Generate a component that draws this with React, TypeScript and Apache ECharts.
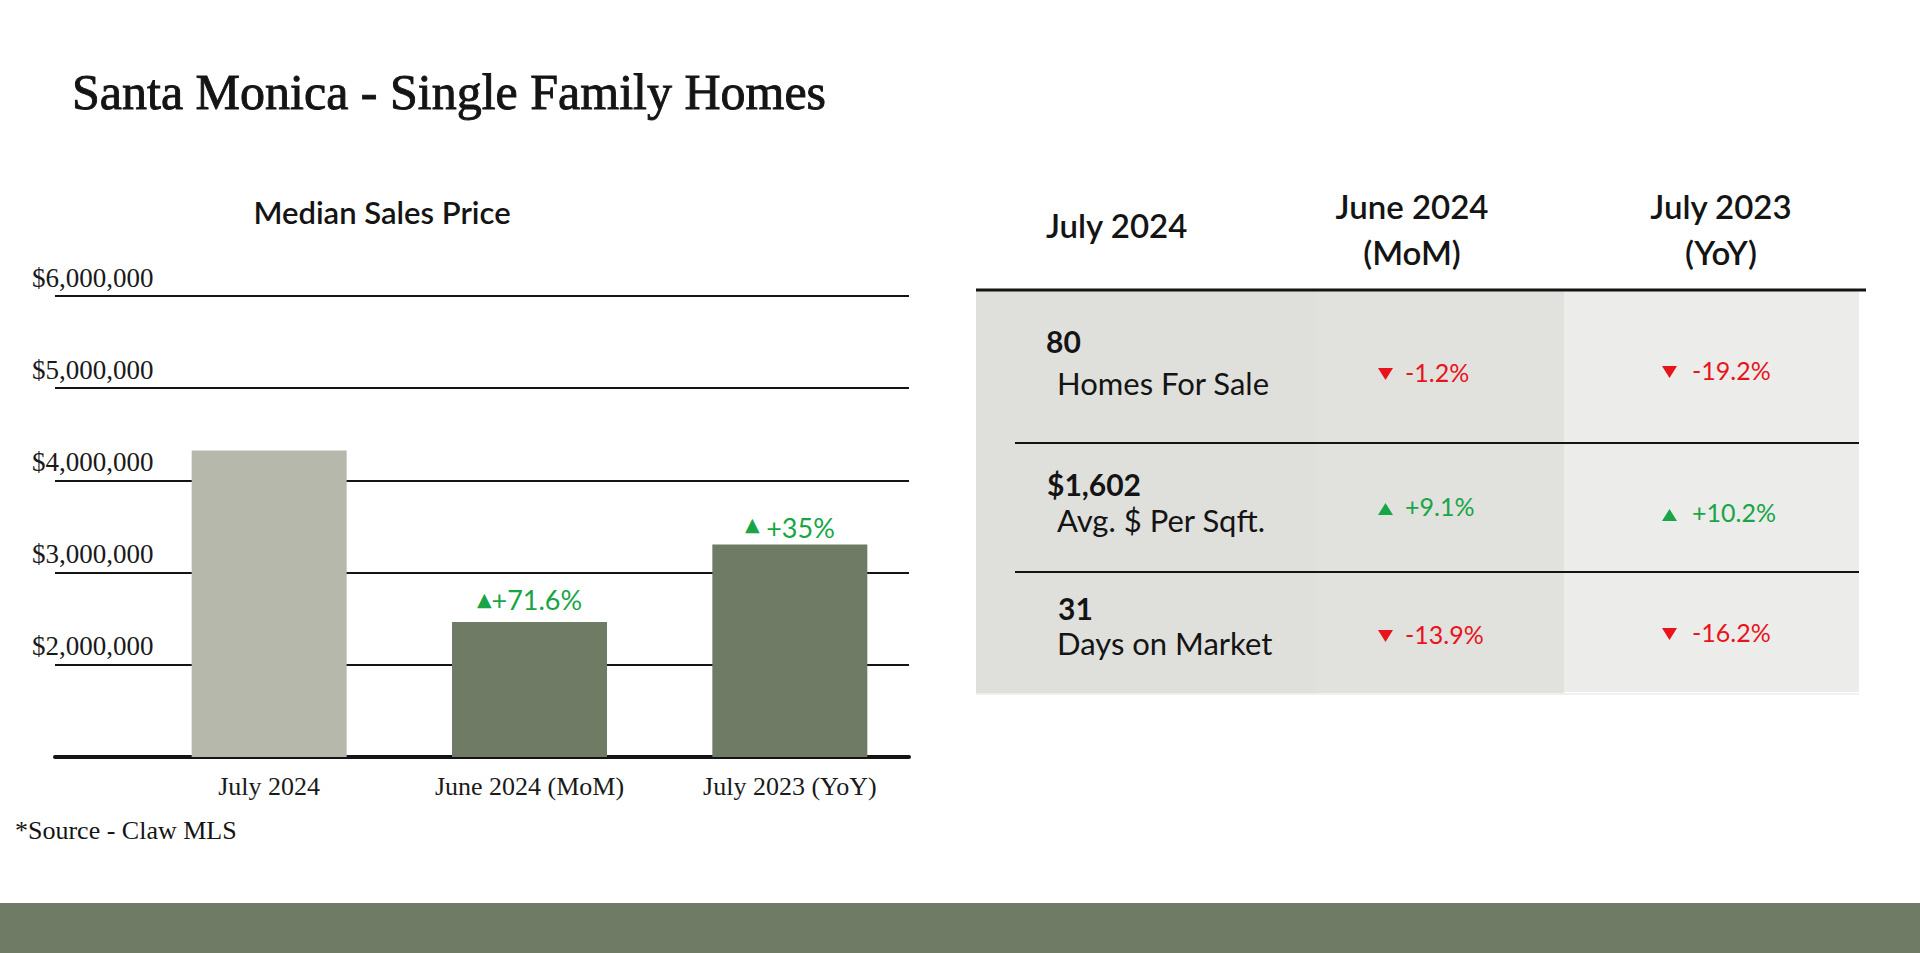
import React, { useEffect, useRef } from "react";
import * as echarts from "echarts";

// ---------- DATA ----------
const pageTitle = "Santa Monica - Single Family Homes";
const chartTitle = "Median Sales Price";
const sourceNote = "*Source - Claw MLS";

const categories = ["July 2024", "June 2024 (MoM)", "July 2023 (YoY)"];
const medianPrices = [4325000, 2465000, 3305000];
const barChanges = ["", "+71.6%", "+35%"];

const yMin = 1000000;
const yMax = 6000000;
const yStep = 1000000;

const tableHeaders = ["July 2024", "June 2024\n(MoM)", "July 2023\n(YoY)"];
const metricValues = ["80", "$1,602", "31"];
const metricNames = ["Homes For Sale", "Avg. $ Per Sqft.", "Days on Market"];
const momChanges = ["-1.2%", "+9.1%", "-13.9%"];
const yoyChanges = ["-19.2%", "+10.2%", "-16.2%"];

// ---------- STYLE / LAYOUT ----------
const SERIF = "'Liberation Serif', 'Times New Roman', serif";
const SANS = "Lato, 'Noto Sans', sans-serif";
const GREEN = "#17a545";
const RED = "#e8141c";
const INK = "#141414";

const valueX = [1046, 1047, 1058];
const valueY = [341, 484, 608];
const nameY = [383, 520, 643];
const momY = [372, 506, 634];
const yoyY = [370, 512, 632];

function fmtMoney(v: number): string {
  return "$" + String(Math.round(v)).replace(/\B(?=(\d{3})+(?!\d))/g, ",");
}

function triangle(x: number, cy: number, up: boolean, color: string) {
  const w = 15;
  const h = 12;
  const pts = up
    ? [[x, cy + h / 2], [x + w, cy + h / 2], [x + w / 2, cy - h / 2]]
    : [[x, cy - h / 2], [x + w, cy - h / 2], [x + w / 2, cy + h / 2]];
  return { type: "polygon", shape: { points: pts }, style: { fill: color }, silent: true };
}

function changeCell(text: string, triX: number, textX: number, cy: number) {
  const up = text.trim().startsWith("+");
  const color = up ? GREEN : RED;
  return [
    triangle(triX, cy + (up ? 3 : 2), up, color),
    {
      type: "text",
      x: textX,
      y: cy,
      style: {
        text,
        fontFamily: SANS,
        fontSize: 25,
        fontWeight: "normal",
        fill: color,
        align: "left",
        verticalAlign: "middle",
      },
      silent: true,
    },
  ];
}

function buildGraphics() {
  const g: any[] = [];
  // page title
  g.push({
    type: "text",
    x: 72,
    y: 92,
    style: {
      text: pageTitle,
      fontFamily: SERIF,
      fontSize: 50,
      fill: INK,
      stroke: INK,
      lineWidth: 0.9,
      align: "left",
      verticalAlign: "middle",
    },
  });
  // chart title
  g.push({
    type: "text",
    x: 382,
    y: 212,
    style: { text: chartTitle, fontFamily: SANS, fontSize: 31, fontWeight: 600, fill: INK, align: "center", verticalAlign: "middle" },
  });
  // source
  g.push({
    type: "text",
    x: 15,
    y: 830,
    style: { text: sourceNote, fontFamily: SERIF, fontSize: 26, fill: INK, align: "left", verticalAlign: "middle" },
  });
  // bottom band
  g.push({ type: "rect", shape: { x: 0, y: 903, width: 1920, height: 50 }, style: { fill: "#6f7b65" } });

  // table background
  g.push({ type: "rect", shape: { x: 976, y: 290, width: 340, height: 404 }, style: { fill: "#dfe0dc" } });
  g.push({ type: "rect", shape: { x: 1316, y: 290, width: 248, height: 404 }, style: { fill: "#e1e2de" } });
  g.push({ type: "rect", shape: { x: 1564, y: 290, width: 295, height: 402 }, style: { fill: "#ecedea" } });
  g.push({ type: "line", shape: { x1: 976, y1: 694, x2: 1859, y2: 694 }, style: { stroke: "#f0f0ee", lineWidth: 2 } });
  // header line
  g.push({ type: "line", shape: { x1: 976, y1: 290, x2: 1866, y2: 290 }, style: { stroke: INK, lineWidth: 3 } });
  // row lines
  g.push({ type: "line", shape: { x1: 1015, y1: 443, x2: 1859, y2: 443 }, style: { stroke: INK, lineWidth: 2 } });
  g.push({ type: "line", shape: { x1: 1015, y1: 572, x2: 1859, y2: 572 }, style: { stroke: INK, lineWidth: 2 } });

  // headers
  g.push({
    type: "text",
    x: 1046,
    y: 225,
    style: { text: tableHeaders[0], fontFamily: SANS, fontSize: 33, fontWeight: 600, fill: INK, align: "left", verticalAlign: "middle" },
  });
  g.push({
    type: "text",
    x: 1412,
    y: 229,
    style: { text: tableHeaders[1], fontFamily: SANS, fontSize: 33, fontWeight: 600, fill: INK, align: "center", verticalAlign: "middle", lineHeight: 46 },
  });
  g.push({
    type: "text",
    x: 1721,
    y: 229,
    style: { text: tableHeaders[2], fontFamily: SANS, fontSize: 33, fontWeight: 600, fill: INK, align: "center", verticalAlign: "middle", lineHeight: 46 },
  });

  for (let i = 0; i < metricValues.length; i++) {
    g.push({
      type: "text",
      x: valueX[i],
      y: valueY[i],
      style: { text: metricValues[i], fontFamily: SANS, fontSize: 30, fontWeight: 700, fill: INK, align: "left", verticalAlign: "middle" },
    });
    g.push({
      type: "text",
      x: 1057,
      y: nameY[i],
      style: { text: metricNames[i], fontFamily: SANS, fontSize: 31, fill: INK, align: "left", verticalAlign: "middle" },
    });
    g.push(...changeCell(momChanges[i], 1378, 1405, momY[i]));
    g.push(...changeCell(yoyChanges[i], 1662, 1692, yoyY[i]));
  }
  return g;
}

export default function App() {
  const ref = useRef<HTMLDivElement>(null);

  useEffect(() => {
    document.body.style.margin = "0";
    if (!ref.current) return;
    const chart = echarts.init(ref.current, null, { renderer: "svg" });

    const barColors = ["#b6b8ab", "#6f7b65", "#6f7b65"];
    const labelDist = [0, 9, 3];

    const option: any = {
      animation: false,
      backgroundColor: "#ffffff",
      grid: [
        { left: 55, right: 1011, top: 296, bottom: 196, outerBoundsMode: "none" },
        { left: 139, right: 1000, top: 296, bottom: 196, outerBoundsMode: "none" },
      ],
      xAxis: [
        {
          gridIndex: 0,
          type: "value",
          min: 0,
          max: 1,
          axisLabel: { show: false },
          axisTick: { show: false },
          splitLine: { show: false },
          axisLine: { show: true, onZero: false, lineStyle: { color: INK, width: 4 } },
        },
        {
          gridIndex: 1,
          type: "category",
          data: categories,
          axisLine: { show: false },
          axisTick: { show: false },
          axisLabel: { fontFamily: SERIF, fontSize: 26, color: "#1a1a1a", margin: 16 },
        },
      ],
      yAxis: [
        {
          gridIndex: 0,
          type: "value",
          min: yMin,
          max: yMax,
          interval: yStep,
          axisLine: { show: false },
          axisTick: { show: false },
          splitLine: { show: true, lineStyle: { color: INK, width: 2 } },
          axisLabel: {
            fontFamily: SERIF,
            fontSize: 27,
            color: "#1a1a1a",
            align: "left",
            verticalAlign: "bottom",
            margin: 23,
            padding: [0, 0, 5, 0],
            formatter: (v: number) => (v === yMin ? "" : fmtMoney(v)),
          },
        },
        {
          gridIndex: 1,
          type: "value",
          min: yMin,
          max: yMax,
          interval: yStep,
          show: false,
          splitLine: { show: false },
        },
      ],
      series: [
        {
          type: "bar",
          xAxisIndex: 1,
          yAxisIndex: 1,
          barWidth: 155,
          z: 3,
          data: medianPrices.map((v, i) => ({
            value: v,
            itemStyle: { color: barColors[i] },
            label: {
              show: barChanges[i] !== "",
              position: "top",
              distance: labelDist[i],
              formatter: i === 1 ? "{t|▲}{v|" + barChanges[i] + "}" : "{t|▲}  {v|" + barChanges[i] + "}",
              rich: {
                t: { fontFamily: "'DejaVu Sans', sans-serif", fontSize: 19, color: GREEN, padding: i === 1 ? [0, 0, 0, 0] : [0, 0, 8, 0] },
                v: { fontFamily: SANS, fontSize: 27, fontWeight: "normal", color: GREEN },
              },
            },
          })),
        },
      ],
      graphic: buildGraphics(),
    };

    chart.setOption(option);
    return () => chart.dispose();
  }, []);

  return (
    <div
      ref={ref}
      style={{ position: "fixed", left: 0, top: 0, width: 1920, height: 953, background: "#fff" }}
    />
  );
}
